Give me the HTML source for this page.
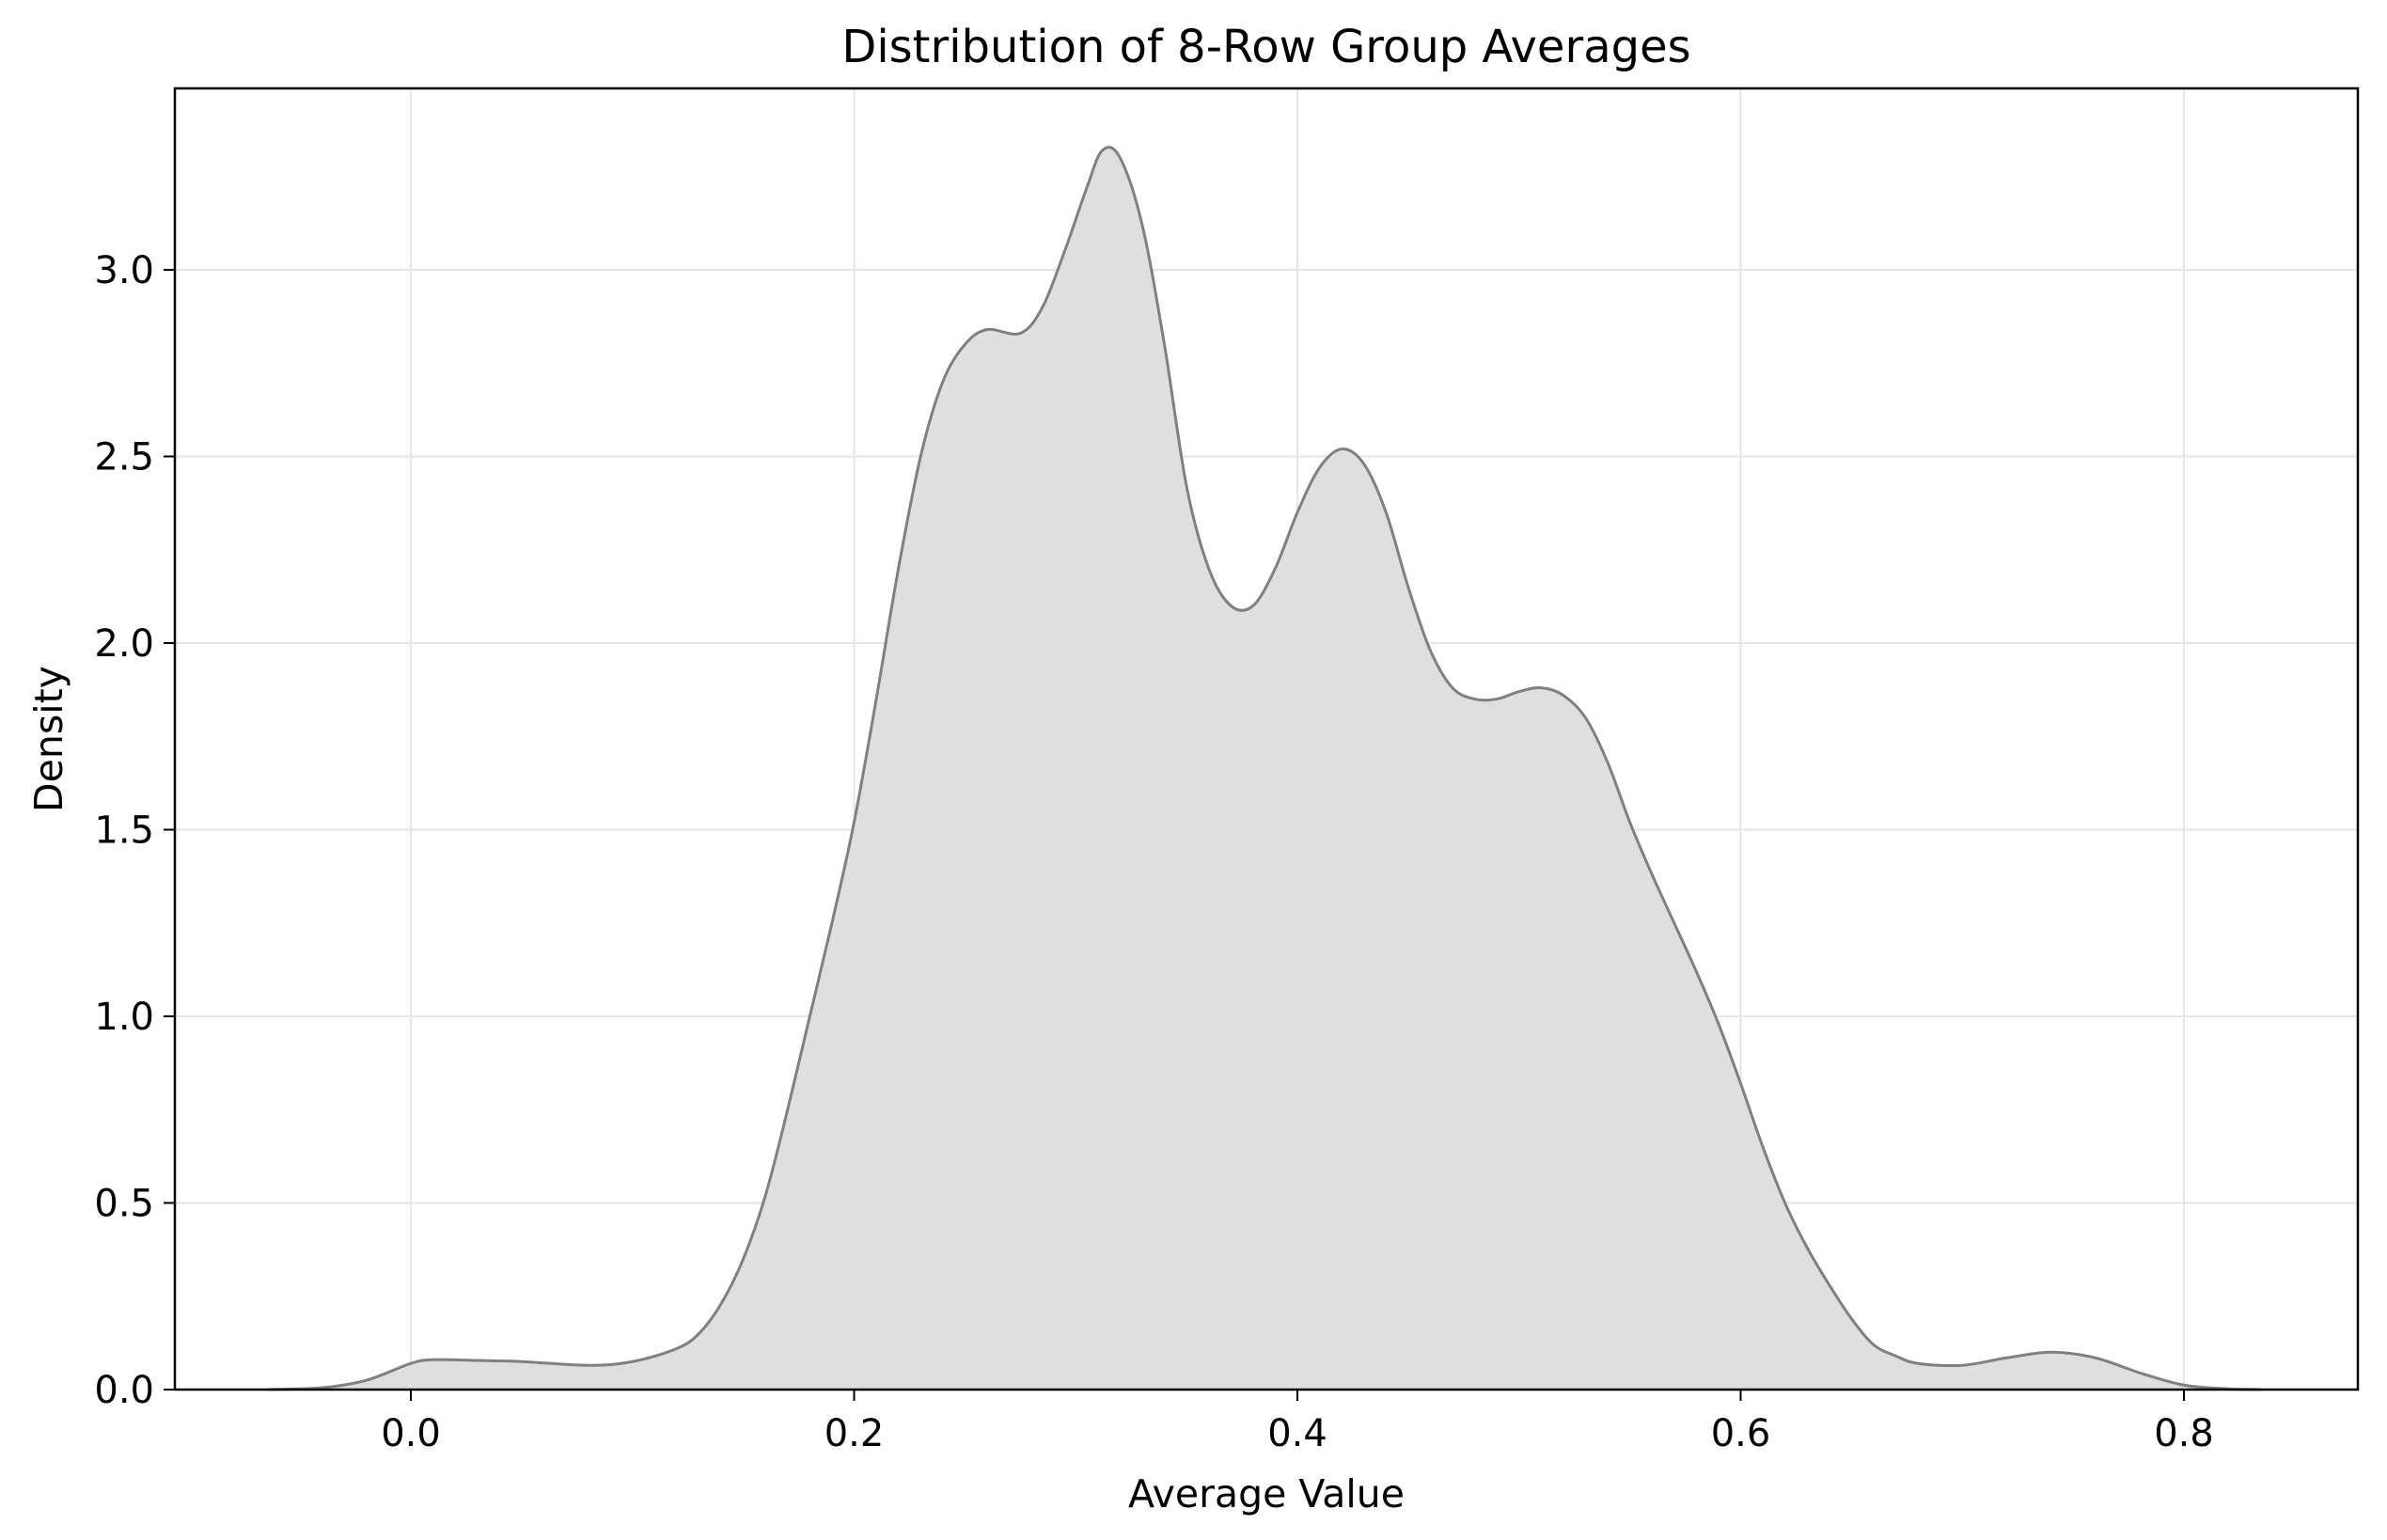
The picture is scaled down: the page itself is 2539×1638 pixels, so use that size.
<!DOCTYPE html>
<html><head><meta charset="utf-8"><style>
html,body{margin:0;padding:0;background:#fff}
svg{display:block;font-family:"DejaVu Sans","Liberation Sans",sans-serif}
</style></head><body>
<svg id="chart" width="2539" height="1638" viewBox="0 0 2539 1638" xmlns="http://www.w3.org/2000/svg">
<rect width="2539" height="1638" fill="#fff"/>
<text x="1347" y="66" font-size="48" text-anchor="middle" fill="#000">Distribution of 8-Row Group Averages</text>
<g id="grid"></g>
<path id="area" fill="#dfdfdf" stroke="none"/>
<path id="line" fill="none" stroke="#808080" stroke-width="3"/>
<rect x="186" y="94" width="2322" height="1384" fill="none" stroke="#000" stroke-width="2.5"/>
<g id="ticks"></g>
<text x="1347" y="1603" font-size="41" text-anchor="middle">Average Value</text>
<text x="0" y="0" font-size="41" text-anchor="middle" transform="translate(66,786) rotate(-90)">Density</text>
</svg>
<script>
const xs = [-0.065,-0.04,-0.02,0.0,0.01,0.03,0.05,0.08,0.1,0.12,0.13,0.14,0.15,0.16,0.17,0.18,0.19,0.2,0.21,0.22,0.23,0.24,0.25,0.26,0.275,0.285,0.295,0.305,0.312,0.32,0.33,0.34,0.35,0.36,0.37,0.38,0.39,0.4,0.41,0.42,0.43,0.44,0.45,0.46,0.47,0.48,0.49,0.5,0.51,0.52,0.53,0.54,0.55,0.56,0.57,0.58,0.59,0.6,0.61,0.62,0.63,0.64,0.65,0.66,0.67,0.68,0.7,0.72,0.74,0.76,0.78,0.8,0.82,0.835];
const ys = [0,0.005,0.025,0.07,0.08,0.078,0.075,0.065,0.075,0.11,0.15,0.23,0.35,0.52,0.75,1.0,1.25,1.52,1.85,2.2,2.5,2.7,2.8,2.84,2.83,2.9,3.05,3.22,3.32,3.3,3.12,2.8,2.42,2.2,2.1,2.1,2.2,2.35,2.47,2.52,2.48,2.35,2.15,1.98,1.88,1.85,1.85,1.87,1.88,1.86,1.8,1.68,1.52,1.38,1.25,1.12,0.98,0.82,0.65,0.5,0.38,0.28,0.19,0.12,0.09,0.07,0.065,0.085,0.1,0.085,0.045,0.012,0.002,0];
const xTicks = [0.0,0.2,0.4,0.6,0.8];
const xTickLabels = ["0.0","0.2","0.4","0.6","0.8"];
const yTicks = [0,0.5,1,1.5,2,2.5,3];
const yTickLabels = ["0.0","0.5","1.0","1.5","2.0","2.5","3.0"];

const X0=186,X1=2508,Y0=94,Y1=1478;
function sx(v){return 437+(v-0)*(2323-437)/0.8;}
function sy(v){return 1478-v*(1478-287)/3;}
const NS="http://www.w3.org/2000/svg";
const grid=document.getElementById('grid'), ticks=document.getElementById('ticks');
function mk(tag,attrs,parent){const e=document.createElementNS(NS,tag);for(const k in attrs)e.setAttribute(k,attrs[k]);parent.appendChild(e);return e;}
xTicks.forEach((t,i)=>{
  const x=sx(t);
  const g=mk('line',{x1:x,x2:x,y1:Y0,y2:Y1,stroke:'#e6e6e6','stroke-width':2},grid);
  
  
  const tk=mk('line',{x1:x,x2:x,y1:Y1,y2:Y1+12,stroke:'#000','stroke-width':2},ticks);
  
  
  const tl=mk('text',{x:x,y:Y1+60,'font-size':40,'text-anchor':'middle'},ticks);
  tl.textContent=xTickLabels[i];
  
  
});
yTicks.forEach((t,i)=>{
  const y=sy(t);
  if(t>0){const g=mk('line',{x1:X0,x2:X1,y1:y,y2:y,stroke:'#e6e6e6','stroke-width':2},grid);
  
  }
  const tk=mk('line',{x1:X0-12,x2:X0,y1:y,y2:y,stroke:'#000','stroke-width':2},ticks);
  
  
  const tl=mk('text',{x:X0-22,y:y+14,'font-size':40,'text-anchor':'end'},ticks);
  tl.textContent=yTickLabels[i];
  
  
});
const pts=xs.map((v,i)=>[sx(v),sy(ys[i])]);
let d='M'+pts[0][0]+','+pts[0][1];
for(let i=0;i<pts.length-1;i++){
  const p0=pts[Math.max(0,i-1)],p1=pts[i],p2=pts[i+1],p3=pts[Math.min(pts.length-1,i+2)];
  const c1=[p1[0]+(p2[0]-p0[0])/6,p1[1]+(p2[1]-p0[1])/6];
  const c2=[p2[0]-(p3[0]-p1[0])/6,p2[1]-(p3[1]-p1[1])/6];
  d+=' C'+c1[0]+','+c1[1]+' '+c2[0]+','+c2[1]+' '+p2[0]+','+p2[1];
}
document.getElementById('line').setAttribute('d',d);
document.getElementById('area').setAttribute('d',d+' L'+pts[pts.length-1][0]+','+sy(0)+' L'+pts[0][0]+','+sy(0)+' Z');
</script>
</body></html>
